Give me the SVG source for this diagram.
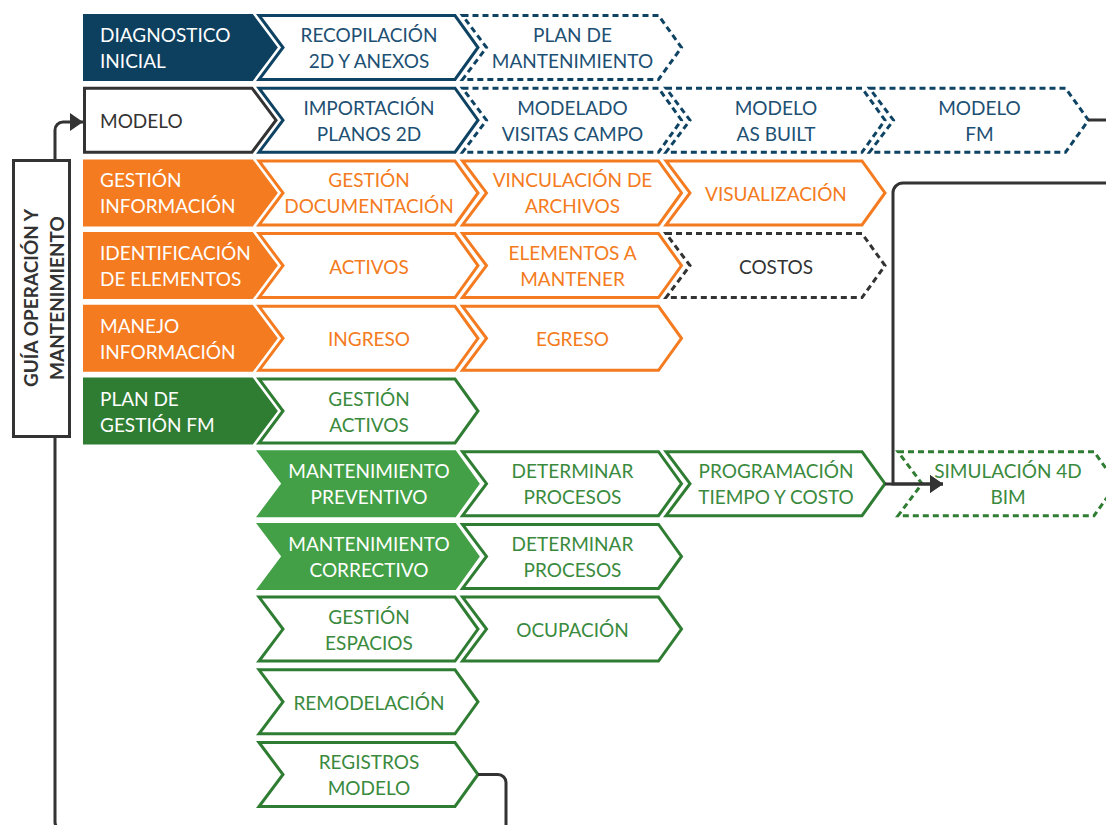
<svg xmlns="http://www.w3.org/2000/svg" width="1106" height="825" viewBox="0 0 1106 825">
  <style>
    text { font-family: Lato, "Liberation Sans", "Noto Sans", sans-serif; font-size: 19px; }
    .c { text-anchor: middle; }
    .l { text-anchor: start; }
    .sh { stroke-width: 3; stroke-linejoin: miter; }
    .dash { stroke-dasharray: 6 4; }
    .navyF { fill: #0d405f; stroke: #0d405f; }
    .navyO { fill: #ffffff; stroke: #0f4363; }
    .navyT { fill: #1d5073; }
    .grayO { fill: #ffffff; stroke: #333333; }
    .grayT { fill: #333333; }
    .orF { fill: #f47b20; stroke: #f47b20; }
    .orO { fill: #ffffff; stroke: #f47b20; }
    .orT { fill: #f47b20; }
    .dgF { fill: #2e7d32; stroke: #2e7d32; }
    .lgF { fill: #43a047; stroke: #43a047; }
    .grO { fill: #ffffff; stroke: #2e7d32; }
    .grT { fill: #3a8a3e; }
    .wT { fill: #ffffff; }
    .conn { fill: none; stroke: #333333; stroke-width: 3; }
  </style>
  <defs>
    <marker id="arrow" viewBox="0 0 13 18" markerUnits="userSpaceOnUse" markerWidth="13" markerHeight="18" refX="13" refY="9" orient="auto">
      <path d="M0,0 L13,9 L0,18 Z" fill="#333333"/>
    </marker>
  </defs>

  <rect width="1106" height="825" fill="#ffffff"/>

  <!-- row 1 -->
  <g id="diagnostico">
    <path class="sh navyF" d="M84.5,15.5 H252 L276,47.5 L252,79.5 H84.5 Z"/>
    <text class="l wT" x="100" y="42">DIAGNOSTICO</text>
    <text class="l wT" x="100" y="68">INICIAL</text>
  </g>
  <g id="recopilacion">
    <path class="sh navyO" d="M259,15.5 H455 L478,47.5 L455,79.5 H259 L283,47.5 Z"/>
    <text class="c navyT" x="369" y="42">RECOPILACIÓN</text>
    <text class="c navyT" x="369" y="68">2D Y ANEXOS</text>
  </g>
  <g id="plan-mantenimiento">
    <path class="sh navyO dash" d="M462.5,15.5 H658.5 L681.5,47.5 L658.5,79.5 H462.5 L486.5,47.5 Z"/>
    <text class="c navyT" x="572.5" y="42">PLAN DE</text>
    <text class="c navyT" x="572.5" y="68">MANTENIMIENTO</text>
  </g>

  <!-- row 2 -->
  <g id="modelo">
    <path class="sh grayO" d="M84.5,88.2 H252 L276,120.2 L252,152.2 H84.5 Z"/>
    <text class="l grayT" x="100" y="128">MODELO</text>
  </g>
  <g id="importacion">
    <path class="sh navyO" d="M259,88.2 H455 L478,120.2 L455,152.2 H259 L283,120.2 Z"/>
    <text class="c navyT" x="369" y="114.7">IMPORTACIÓN</text>
    <text class="c navyT" x="369" y="140.7">PLANOS 2D</text>
  </g>
  <g id="modelado-visitas">
    <path class="sh navyO dash" d="M462.5,88.2 H658.5 L681.5,120.2 L658.5,152.2 H462.5 L486.5,120.2 Z"/>
    <text class="c navyT" x="572.5" y="114.7">MODELADO</text>
    <text class="c navyT" x="572.5" y="140.7">VISITAS CAMPO</text>
  </g>
  <g id="modelo-as-built">
    <path class="sh navyO dash" d="M666,88.2 H862 L885,120.2 L862,152.2 H666 L690,120.2 Z"/>
    <text class="c navyT" x="776" y="114.7">MODELO</text>
    <text class="c navyT" x="776" y="140.7">AS BUILT</text>
  </g>
  <g id="modelo-fm">
    <path class="sh navyO dash" d="M869.5,88.2 H1065.5 L1088.5,120.2 L1065.5,152.2 H869.5 L893.5,120.2 Z"/>
    <text class="c navyT" x="979.5" y="114.7">MODELO</text>
    <text class="c navyT" x="979.5" y="140.7">FM</text>
  </g>

  <!-- row 3 -->
  <g id="gestion-informacion">
    <path class="sh orF" d="M84.5,160.9 H252 L276,192.9 L252,224.9 H84.5 Z"/>
    <text class="l wT" x="100" y="187.4">GESTIÓN</text>
    <text class="l wT" x="100" y="213.4">INFORMACIÓN</text>
  </g>
  <g id="gestion-documentacion">
    <path class="sh orO" d="M259,160.9 H455 L478,192.9 L455,224.9 H259 L283,192.9 Z"/>
    <text class="c orT" x="369" y="187.4">GESTIÓN</text>
    <text class="c orT" x="369" y="213.4">DOCUMENTACIÓN</text>
  </g>
  <g id="vinculacion">
    <path class="sh orO" d="M462.5,160.9 H658.5 L681.5,192.9 L658.5,224.9 H462.5 L486.5,192.9 Z"/>
    <text class="c orT" x="572.5" y="187.4">VINCULACIÓN DE</text>
    <text class="c orT" x="572.5" y="213.4">ARCHIVOS</text>
  </g>
  <g id="visualizacion">
    <path class="sh orO" d="M666,160.9 H862 L885,192.9 L862,224.9 H666 L690,192.9 Z"/>
    <text class="c orT" x="776" y="201">VISUALIZACIÓN</text>
  </g>

  <!-- row 4 -->
  <g id="identificacion">
    <path class="sh orF" d="M84.5,233.6 H252 L276,265.6 L252,297.6 H84.5 Z"/>
    <text class="l wT" x="100" y="260.1">IDENTIFICACIÓN</text>
    <text class="l wT" x="100" y="286.1">DE ELEMENTOS</text>
  </g>
  <g id="activos">
    <path class="sh orO" d="M259,233.6 H455 L478,265.6 L455,297.6 H259 L283,265.6 Z"/>
    <text class="c orT" x="369" y="273.6">ACTIVOS</text>
  </g>
  <g id="elementos-mantener">
    <path class="sh orO" d="M462.5,233.6 H658.5 L681.5,265.6 L658.5,297.6 H462.5 L486.5,265.6 Z"/>
    <text class="c orT" x="572.5" y="260.1">ELEMENTOS A</text>
    <text class="c orT" x="572.5" y="286.1">MANTENER</text>
  </g>
  <g id="costos">
    <path class="sh grayO dash" d="M666,233.6 H862 L885,265.6 L862,297.6 H666 L690,265.6 Z"/>
    <text class="c grayT" x="776" y="273.6">COSTOS</text>
  </g>

  <!-- row 5 -->
  <g id="manejo-informacion">
    <path class="sh orF" d="M84.5,306.3 H252 L276,338.3 L252,370.3 H84.5 Z"/>
    <text class="l wT" x="100" y="332.8">MANEJO</text>
    <text class="l wT" x="100" y="358.8">INFORMACIÓN</text>
  </g>
  <g id="ingreso">
    <path class="sh orO" d="M259,306.3 H455 L478,338.3 L455,370.3 H259 L283,338.3 Z"/>
    <text class="c orT" x="369" y="346.3">INGRESO</text>
  </g>
  <g id="egreso">
    <path class="sh orO" d="M462.5,306.3 H658.5 L681.5,338.3 L658.5,370.3 H462.5 L486.5,338.3 Z"/>
    <text class="c orT" x="572.5" y="346.3">EGRESO</text>
  </g>

  <!-- row 6 -->
  <g id="plan-gestion-fm">
    <path class="sh dgF" d="M84.5,379 H252 L276,411 L252,443 H84.5 Z"/>
    <text class="l wT" x="100" y="405.5">PLAN DE</text>
    <text class="l wT" x="100" y="431.5">GESTIÓN FM</text>
  </g>
  <g id="gestion-activos">
    <path class="sh grO" d="M259,379 H455 L478,411 L455,443 H259 L283,411 Z"/>
    <text class="c grT" x="369" y="405.5">GESTIÓN</text>
    <text class="c grT" x="369" y="431.5">ACTIVOS</text>
  </g>

  <!-- row 7 -->
  <g id="mantenimiento-preventivo">
    <path class="sh lgF" d="M259,451.7 H455 L478,483.7 L455,515.7 H259 L283,483.7 Z"/>
    <text class="c wT" x="369" y="478.2">MANTENIMIENTO</text>
    <text class="c wT" x="369" y="504.2">PREVENTIVO</text>
  </g>
  <g id="determinar-procesos-1">
    <path class="sh grO" d="M462.5,451.7 H658.5 L681.5,483.7 L658.5,515.7 H462.5 L486.5,483.7 Z"/>
    <text class="c grT" x="572.5" y="478.2">DETERMINAR</text>
    <text class="c grT" x="572.5" y="504.2">PROCESOS</text>
  </g>
  <g id="programacion">
    <path class="sh grO" d="M666,451.7 H862 L885,483.7 L862,515.7 H666 L690,483.7 Z"/>
    <text class="c grT" x="776" y="478.2">PROGRAMACIÓN</text>
    <text class="c grT" x="776" y="504.2">TIEMPO Y COSTO</text>
  </g>
  <g id="simulacion-4d">
    <path class="sh grO dash" d="M898,451.7 H1094 L1117,483.7 L1094,515.7 H898 L922,483.7 Z"/>
    <text class="c grT" x="1008" y="478.2">SIMULACIÓN 4D</text>
    <text class="c grT" x="1008" y="504.2">BIM</text>
  </g>

  <!-- row 8 -->
  <g id="mantenimiento-correctivo">
    <path class="sh lgF" d="M259,524.4 H455 L478,556.4 L455,588.4 H259 L283,556.4 Z"/>
    <text class="c wT" x="369" y="550.9">MANTENIMIENTO</text>
    <text class="c wT" x="369" y="576.9">CORRECTIVO</text>
  </g>
  <g id="determinar-procesos-2">
    <path class="sh grO" d="M462.5,524.4 H658.5 L681.5,556.4 L658.5,588.4 H462.5 L486.5,556.4 Z"/>
    <text class="c grT" x="572.5" y="550.9">DETERMINAR</text>
    <text class="c grT" x="572.5" y="576.9">PROCESOS</text>
  </g>

  <!-- row 9 -->
  <g id="gestion-espacios">
    <path class="sh grO" d="M259,597.1 H455 L478,629.1 L455,661.1 H259 L283,629.1 Z"/>
    <text class="c grT" x="369" y="623.6">GESTIÓN</text>
    <text class="c grT" x="369" y="649.6">ESPACIOS</text>
  </g>
  <g id="ocupacion">
    <path class="sh grO" d="M462.5,597.1 H658.5 L681.5,629.1 L658.5,661.1 H462.5 L486.5,629.1 Z"/>
    <text class="c grT" x="572.5" y="637.1">OCUPACIÓN</text>
  </g>

  <!-- row 10 -->
  <g id="remodelacion">
    <path class="sh grO" d="M259,669.8 H455 L478,701.8 L455,733.8 H259 L283,701.8 Z"/>
    <text class="c grT" x="369" y="709.8">REMODELACIÓN</text>
  </g>

  <!-- row 11 -->
  <g id="registros-modelo">
    <path class="sh grO" d="M259,742.5 H455 L478,774.5 L455,806.5 H259 L283,774.5 Z"/>
    <text class="c grT" x="369" y="769">REGISTROS</text>
    <text class="c grT" x="369" y="795">MODELO</text>
  </g>

  <!-- connectors (drawn over the chevrons, under the side label) -->
  <g id="connectors">
    <path class="conn" d="M478,774.5 H498 A8,8 0 0 1 506,782.5 V830 H63 A8,8 0 0 1 55,822 V130 A8,8 0 0 1 63,122 H83" marker-end="url(#arrow)"/>
    <path class="conn" d="M1088,120 H1115 V183 H903 A10,10 0 0 0 893,193 V484 H943" marker-end="url(#arrow)"/>
    <path class="conn" d="M885,484 H943" marker-end="url(#arrow)"/>
  </g>

  <!-- side label -->
  <g id="guia">
    <rect x="13.5" y="160.5" width="56" height="276" fill="#ffffff" stroke="#333333" stroke-width="3"/>
    <g transform="translate(41,298) rotate(-90)">
      <text class="c grayT" x="0" y="-3" font-weight="bold">GUÍA OPERACIÓN Y</text>
      <text class="c grayT" x="0" y="23" font-weight="bold">MANTENIMIENTO</text>
    </g>
  </g>
</svg>
